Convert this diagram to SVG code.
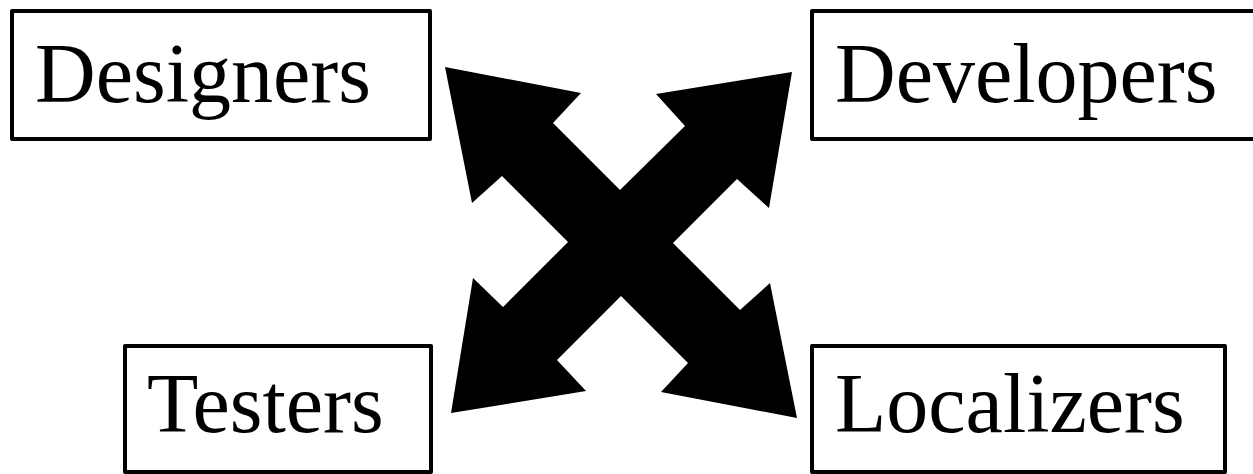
<svg xmlns="http://www.w3.org/2000/svg" width="1253" height="474" viewBox="0 0 1253 474">
<style>
.box{fill:#fff;stroke:#000;stroke-width:4;stroke-linejoin:round}
.lbl{font-family:"Liberation Serif","Times New Roman",serif;font-size:84px;fill:#000}
</style>
<rect width="1253" height="474" fill="#fff"/>
<g id="connectors">
<polygon fill="#000" points="620,190 685,126 656,94 792,72 769,208 737,179 673,243 740,310 770,283 797,418 661,392 688,363 621,296 557,360 586,391 451,413 473,278 503,307 568,242 502,176 472,203 445,67 581,93 553,123"/>
</g>
<g id="designers">
<rect class="box" x="12" y="11" width="418" height="128"/>
<text class="lbl" x="35" y="102">Designers</text>
</g>
<g id="developers">
<rect class="box" x="812" y="11" width="460" height="128"/>
<text class="lbl" x="835" y="102">Developers</text>
</g>
<g id="testers">
<rect class="box" x="125" y="346" width="306" height="126"/>
<text class="lbl" x="147" y="432">Testers</text>
</g>
<g id="localizers">
<rect class="box" x="812" y="346" width="413" height="126"/>
<text class="lbl" x="835" y="432">Localizers</text>
</g>
</svg>
